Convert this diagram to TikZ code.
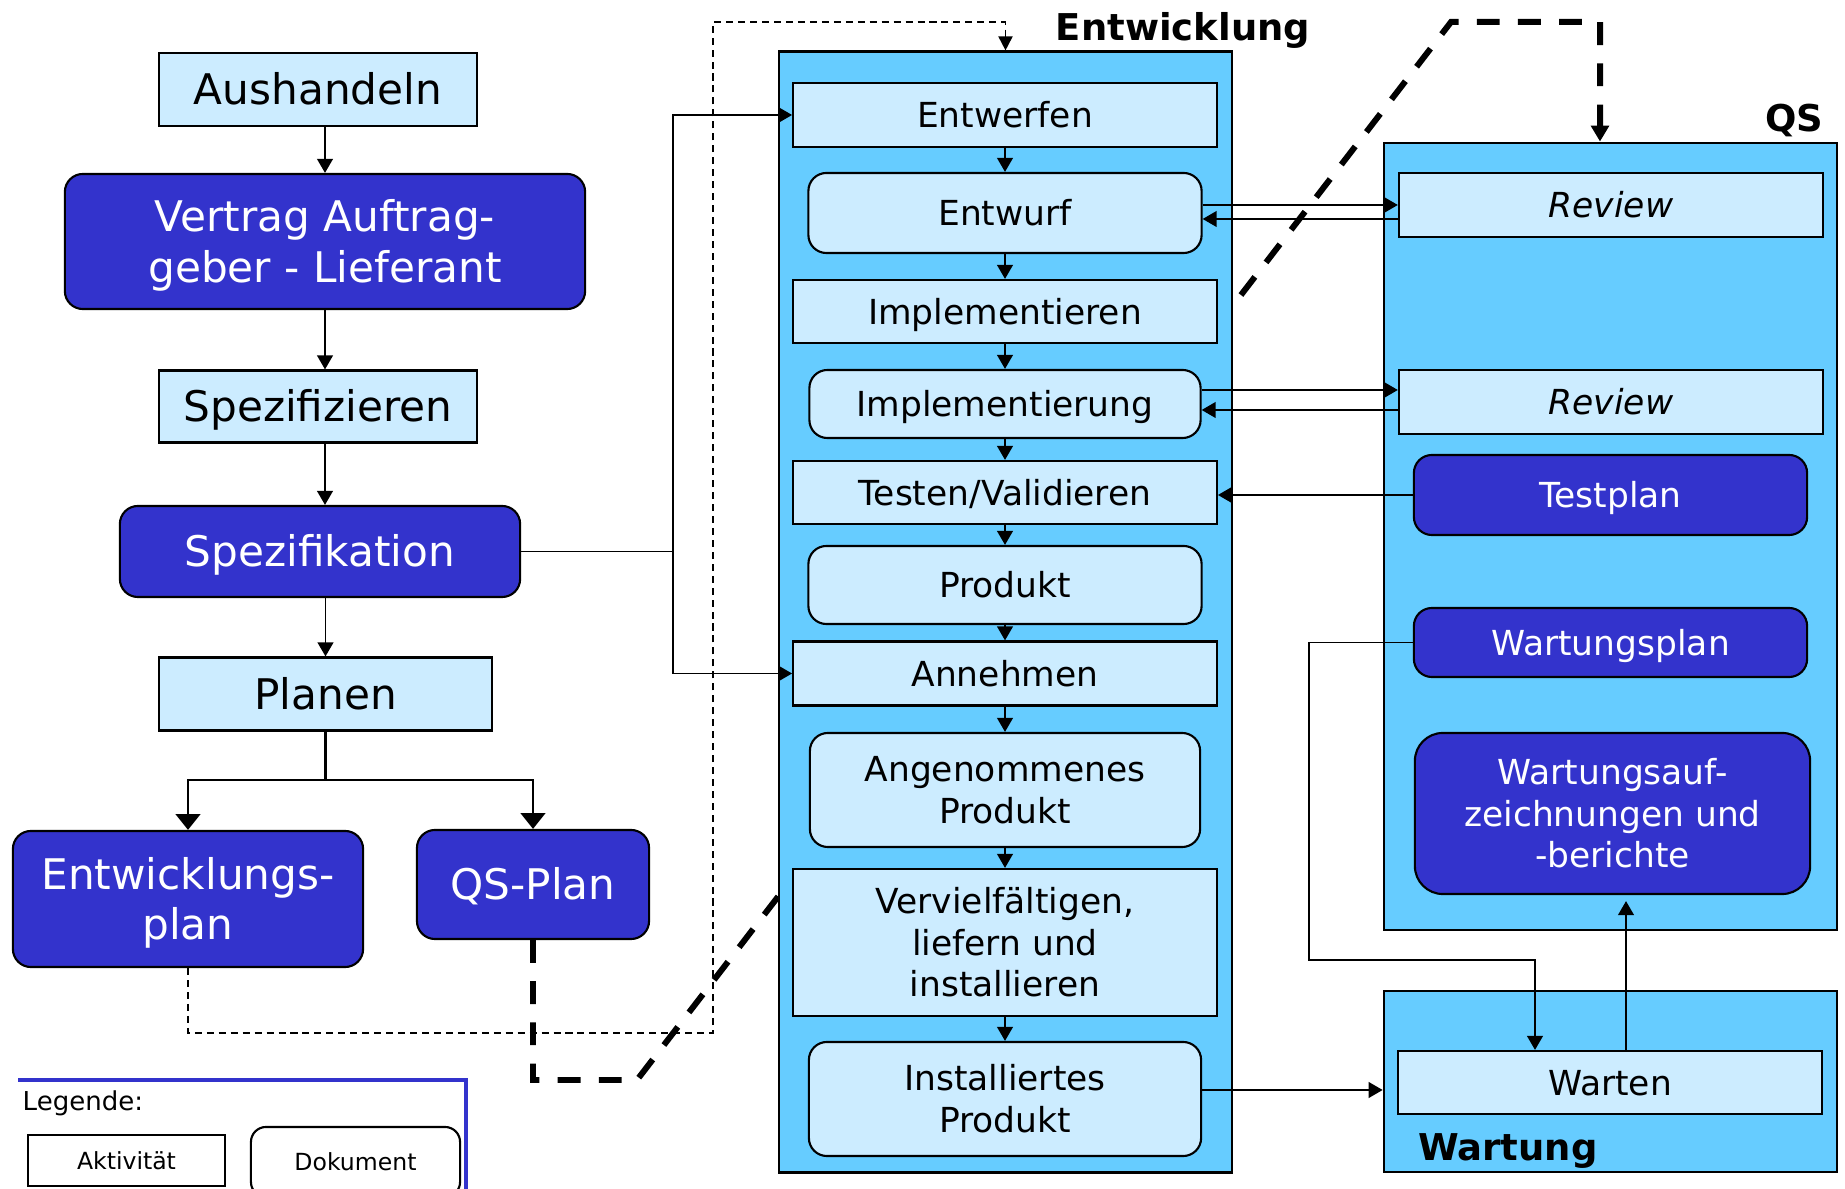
\documentclass[tikz,border=0pt]{standalone}
\usepackage{fontspec}
\setmainfont{DejaVu Sans}
\usetikzlibrary{arrows.meta,calc}
\definecolor{hellblau}{HTML}{CCECFF}
\definecolor{rahmenblau}{HTML}{66CCFF}
\definecolor{dunkelblau}{HTML}{3333CC}
\newcommand{\gross}{\fontsize{12}{14.4}\selectfont}
\newcommand{\mittel}{\fontsize{9.8}{11.8}\selectfont}
\newcommand{\titel}{\fontsize{10.5}{12.6}\selectfont\bfseries}
\newcommand{\klein}{\fontsize{6.7}{8}\selectfont}
\begin{document}
\begin{tikzpicture}[x=0.01cm, y=0.01cm]
\tikzstyle{every node}+=[inner sep=0pt, align=center]
\tikzstyle{aktiv}=[draw, fill=hellblau, line width=0.6pt]
\tikzstyle{dok}=[draw, fill=hellblau, line width=0.6pt, rounded corners=0.18cm]
\tikzstyle{dokdunkel}=[draw, fill=dunkelblau, text=white, line width=0.6pt, rounded corners=0.18cm]
\tikzstyle{bereich}=[draw, fill=rahmenblau, line width=0.7pt]
\tikzstyle{textgross}=[font=\gross, text height=8.8pt, text depth=0pt]
\tikzstyle{textgross2}=[font=\gross, text height=23.2pt, text depth=0pt]
\tikzstyle{textmittel}=[font=\mittel, text height=7.2pt, text depth=0pt]
\tikzstyle{textmittel2}=[font=\mittel, text height=19pt, text depth=0pt]
\tikzstyle{textmittel3}=[font=\mittel, text height=30.8pt, text depth=0pt]
\tikzstyle{ueberschrift}=[font=\titel, text height=7.7pt, text depth=0pt]
\tikzstyle{pfeil}=[line width=0.5pt, -{Triangle[width=4.5pt,length=4pt]}]
\tikzstyle{grosspfeil}=[line width=0.7pt, -{Triangle[width=7pt,length=4.5pt]}]
\tikzstyle{strichel}=[line width=0.5pt, dash pattern=on 2pt off 1.4pt]
\tikzstyle{dickstrichel}=[line width=1.7pt, dash pattern=on 6.5pt off 5.2pt]
\useasboundingbox (0,0) rectangle (1845,-1189);
\node (aushandeln) at (318,-89.5) [aktiv, textgross, minimum width=3.18cm, minimum height=0.73cm] {Aushandeln};
\node (vertrag) at (325,-241.5) [dokdunkel, textgross2, minimum width=5.2cm, minimum height=1.35cm] {Vertrag Auftrag-\\geber - Lieferant};
\node (spezifizieren) at (318,-406.5) [aktiv, textgross, minimum width=3.18cm, minimum height=0.72cm] {Spezifizieren};
\node (spezifikation) at (320,-551.5) [dokdunkel, textgross, minimum width=4cm, minimum height=0.91cm] {Spezifikation};
\node (planen) at (325.5,-694) [aktiv, textgross, minimum width=3.33cm, minimum height=0.73cm] {Planen};
\node (entwplan) at (188,-899) [dokdunkel, textgross2, minimum width=3.5cm, minimum height=1.36cm] {Entwicklungs-\\plan};
\node (qsplan) at (533,-884.5) [dokdunkel, textgross, minimum width=2.32cm, minimum height=1.09cm] {QS-Plan};
\node (qs) at (1610.5,-536.5) [bereich, minimum width=4.53cm, minimum height=7.87cm] {};
\node (qstitel) at (1794,-118) [ueberschrift] {QS};
\coordinate (qsknick) at (637,-1080);
\coordinate (qsoben) at (1451,-22);
\draw[dickstrichel, -{Triangle[width=5pt,length=4.5pt]}] (qsplan.south) |- (qsknick) -- (qsoben) -| ($(qs.north)+(-10.5,0)$);
\node (entwicklung) at (1005.5,-612) [bereich, minimum width=4.53cm, minimum height=11.2cm] {};
\node (entwtitel) at (1183,-27) [ueberschrift] {Entwicklung};
\node (entwerfen) at (1005,-115) [aktiv, textmittel, minimum width=4.235cm, minimum height=0.64cm] {Entwerfen};
\node (entwurf) at (1005,-213) [dok, textmittel, minimum width=3.93cm, minimum height=0.8cm] {Entwurf};
\node (implementieren) at (1005,-311.5) [aktiv, textmittel, minimum width=4.235cm, minimum height=0.63cm] {Implementieren};
\node (implementierung) at (1005,-404) [dok, textmittel, minimum width=3.91cm, minimum height=0.68cm] {Implementierung};
\node (testen) at (1005,-492.5) [aktiv, textmittel, minimum width=4.235cm, minimum height=0.63cm] {Testen/Validieren};
\node (produkt) at (1005,-585) [dok, textmittel, minimum width=3.93cm, minimum height=0.78cm] {Produkt};
\node (annehmen) at (1005,-673.5) [aktiv, textmittel, minimum width=4.235cm, minimum height=0.64cm] {Annehmen};
\node (angenommen) at (1005,-790) [dok, textmittel2, minimum width=3.9cm, minimum height=1.14cm] {Angenommenes\\Produkt};
\node (vervielf) at (1005,-942.5) [aktiv, textmittel3, minimum width=4.235cm, minimum height=1.47cm] {Vervielfältigen,\\liefern und\\installieren};
\node (installiert) at (1005,-1099) [dok, textmittel2, minimum width=3.92cm, minimum height=1.14cm] {Installiertes\\Produkt};
\node (review1) at (1611,-205) [aktiv, textmittel, font=\mittel\itshape, minimum width=4.24cm, minimum height=0.64cm] {Review};
\node (review2) at (1611,-402) [aktiv, textmittel, font=\mittel\itshape, minimum width=4.24cm, minimum height=0.64cm] {Review};
\node (testplan) at (1610.5,-495) [dokdunkel, textmittel, minimum width=3.93cm, minimum height=0.8cm] {Testplan};
\node (wartplan) at (1610.5,-642.5) [dokdunkel, textmittel, minimum width=3.93cm, minimum height=0.69cm] {Wartungsplan};
\node (wartaufz) at (1612.5,-813.5) [dokdunkel, textmittel3, rounded corners=0.28cm, minimum width=3.95cm, minimum height=1.61cm] {Wartungsauf-\\zeichnungen und\\-berichte};
\node (wartung) at (1610.5,-1081.5) [bereich, minimum width=4.53cm, minimum height=1.81cm] {};
\node (warten) at (1610,-1082.5) [aktiv, textmittel, minimum width=4.235cm, minimum height=0.63cm] {Warten};
\node (warttitel) at (1508,-1147) [ueberschrift] {Wartung};
\draw[pfeil] (aushandeln.south -| vertrag.north) -- (vertrag.north);
\draw[pfeil] (vertrag.south) -- (spezifizieren.north -| vertrag.south);
\draw[pfeil] (spezifizieren.south -| vertrag.south) -- (spezifikation.north -| vertrag.south);
\draw[pfeil] (spezifikation.south -| planen.north) -- (planen.north);
\coordinate (verteiler) at (325.5,-780);
\draw[line width=0.7pt] (planen.south) -- (verteiler);
\draw[grosspfeil] (verteiler) -| (entwplan.north);
\draw[grosspfeil] (verteiler) -| (qsplan.north);
\coordinate (spezweiche) at (673,-551.5);
\draw[line width=0.5pt] (spezifikation.east) -- (spezweiche);
\draw[pfeil] (spezweiche) |- (entwerfen.west);
\draw[pfeil] (spezweiche) |- (annehmen.west);
\coordinate (strichunten) at (713,-1033);
\coordinate (strichoben) at (713,-22);
\draw[strichel, -{Triangle[width=4pt,length=4pt]}] (entwplan.south) |- (strichunten) -- (strichoben) -| (entwicklung.north);
\draw[pfeil] (entwerfen.south) -- (entwurf.north);
\draw[pfeil] (entwurf.south) -- (implementieren.north);
\draw[pfeil] (implementieren.south) -- (implementierung.north);
\draw[pfeil] (implementierung.south) -- (testen.north);
\draw[pfeil] (testen.south) -- (produkt.north);
\draw[pfeil] (produkt.south) -- (annehmen.north);
\draw[pfeil] (annehmen.south) -- (angenommen.north);
\draw[pfeil] (angenommen.south) -- (vervielf.north);
\draw[pfeil] (vervielf.south) -- (installiert.north);
\draw[pfeil] (review1.west -| entwurf.east) -- (review1.west);
\draw[pfeil] ($(review1.west)+(0,-14)$) -- ($(entwurf.east)+(0,-6)$);
\draw[pfeil] ($(implementierung.east)+(0,14)$) -- ($(review2.west)+(0,12)$);
\draw[pfeil] ($(review2.west)+(0,-8)$) -- ($(implementierung.east)+(0,-6)$);
\draw[pfeil] (testplan.west) -- (testplan.west -| testen.east);
\coordinate (wartknick) at (1309,-960);
\draw[pfeil] (wartplan.west) -| (wartknick) -| ($(warten.north)+(-75,0)$);
\draw[pfeil] ($(warten.north)+(16,0)$) -- ($(wartaufz.south)+(13.5,-6)$);
\draw[pfeil] ($(installiert.east)+(0,9)$) -- ($(wartung.west)+(0,-8.5)$);
\draw[dunkelblau, line width=1pt] (18,-1080) -- (466,-1080) -- (466,-1200);
\node (legende) at (22,-1103) [anchor=west, font=\fontsize{7.4}{9}\selectfont] {Legende:};
\node (aktivitaet) at (126.5,-1160.5) [draw, line width=0.6pt, minimum width=1.97cm, minimum height=0.51cm, font=\klein] {Aktivität};
\node (dokument) at (355.5,-1162) [draw, rounded corners=0.15cm, line width=0.6pt, minimum width=2.09cm, minimum height=0.7cm, font=\klein] {Dokument};
\end{tikzpicture}
\end{document}
